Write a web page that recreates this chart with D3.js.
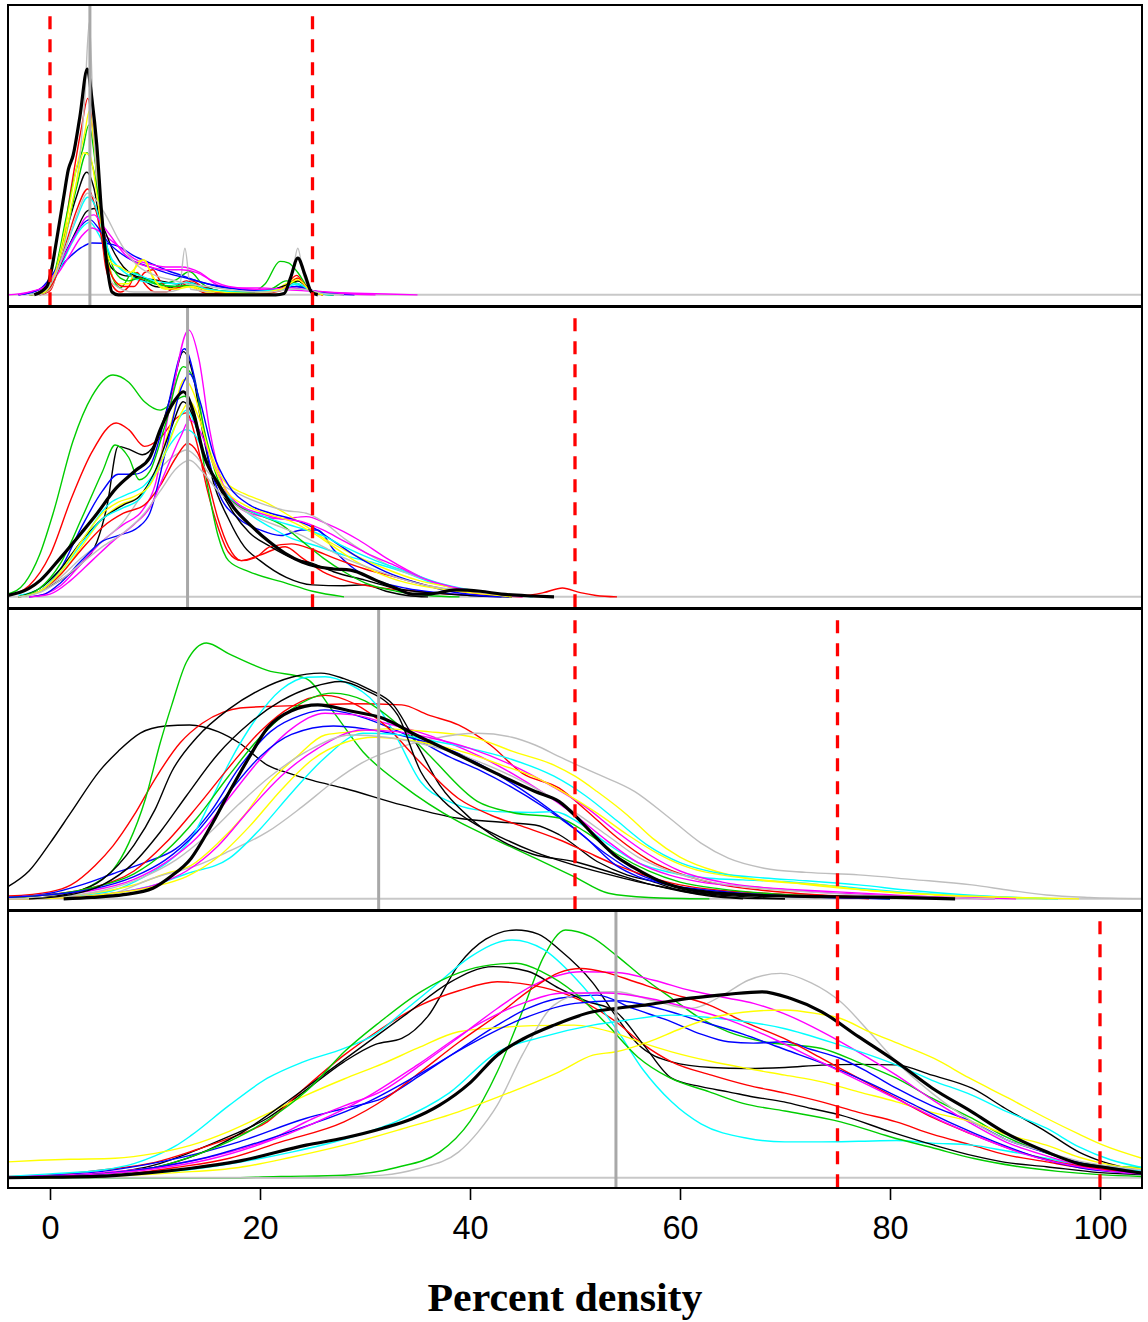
<!DOCTYPE html>
<html>
<head>
<meta charset="utf-8">
<script src="https://cdn.jsdelivr.net/npm/d3@7"></script>
<style>
  body { margin: 0; background: #fff; }
</style>
</head>
<body>
<script>
// ---- data ----
// every curve is a list of [percent density, relative density (0..100 of panel max)]
// colours follow R's palette() in order, so curve i uses palette[i % 8]

const xTicks = [0, 20, 40, 60, 80, 100];
const xLabel = 'Percent density';

// panel 1
const p1Median = 3.8;
const p1Cuts = [0, 25];
const p1Pooled = [[-1.5,0],[-0.3,3],[0.2,10],[0.6,19],[1.3,35],[1.75,45],[2.2,50],[2.85,64],[3.55,81],[4.0,70],[4.45,54],[4.9,30],[5.4,11.5],[5.9,1],[6.5,0],[21.5,0],[22.3,0.5],[22.9,6],[23.6,13.2],[24.3,7],[24.9,1],[25.5,0]];
const p1Curves = [
  [[-2,0],[-0.5,1],[0.5,8],[1.5,22],[2.5,35],[3.5,44],[4.2,38],[5,20],[5.8,10],[7,7],[8,6.5],[9,5],[10,3],[11.5,2.5],[13,4.4],[14.5,2],[17,1],[20,1],[22.5,3],[23.6,5],[24.8,1.5],[26,0]],
  [[-1,0],[0,1.5],[1,14],[2,38],[3,60],[3.6,70.5],[4.1,58],[4.7,30],[5.3,10],[6,3],[6.7,1],[7.5,3],[8.3,8],[9,4],[10,1],[11,1],[12,3],[13,5],[14,2],[15,0.5],[20,0.3],[22,1.5],[23.5,7],[24.5,2],[26,0]],
  [[-2,0],[-0.5,1],[0.5,9],[1.5,27],[2.5,45],[3.1,52],[3.7,61],[4.3,48],[5,25],[5.8,8],[6.7,2.5],[7.9,8],[9,6],[10.5,4],[12,5.4],[13.3,8.4],[14.5,4],[16,1.5],[19,1],[20.5,4],[21.9,12],[22.7,11.5],[23.6,8],[24.5,3],[25.5,0.5],[27,0]],
  [[-3,0],[-1,2],[0,5],[1,10],[2,14],[3,17],[4,18.6],[5,18.5],[6,18],[6.7,17],[8,14],[9.5,11.5],[11,9],[12.5,7],[14,5],[16,3],[18,2],[20,1.5],[22,2.5],[23.5,3],[25,1.5],[27,0.5],[29,0]],
  [[-2,0],[-0.5,2],[1,10],[2,18],[3,24],[3.8,26],[4.6,22],[5.5,15],[6.5,10],[8,6],[10,4],[12,3],[13,3.5],[15,2],[18,1],[21,1.5],[23,4],[24,3],[25.5,0.5],[27,0]],
  [[-4,0],[-2,1],[-1,2],[0,4],[1,9],[2,15],[3,21],[4,24],[5,22],[6,19],[7,16],[8,13],[9.5,11],[11,10],[12.5,10],[14.3,8],[16,3.5],[18,2.5],[20,2.5],[22,2],[24,1.5],[26,1],[29,0.6],[32,0.3],[35,0]],
  [[-2,0],[-0.5,1],[0.5,8],[1.5,25],[2.5,45],[3.3,58],[3.75,66],[4.3,50],[5,22],[5.8,8],[6.5,4],[7.5,4],[8.4,12],[9,12.5],[9.8,6],[11,2],[13,3],[15,1],[19,0.5],[21,1],[22.5,4],[23.6,6],[24.6,2],[26,0]],
  [[-1,0],[0,2],[1,12],[2,30],[2.8,48],[3.3,70],[3.75,98],[4.15,60],[4.6,35],[5.2,15],[6,4],[8,1],[11,1],[12.3,2],[12.85,16.7],[13.4,2],[16,1],[20,1],[22.5,2],[23.1,8],[23.6,16.7],[24.1,8],[24.7,1.5],[25.5,0]],
  [[-2,0],[-0.5,1.5],[0.5,7],[1.5,15],[2.5,23],[3.5,30],[4.2,31],[5,25],[6,16],[7,10],[8,7],[9,6],[10.5,5],[12,4],[13.3,4.4],[14.5,3],[17,1],[20,1],[22.5,3.5],[23.6,5],[25,1.5],[27,0]],
  [[-2,0],[-0.5,1],[0.5,6],[1.5,18],[2.5,30],[3.6,38],[4.4,30],[5.2,15],[6,6],[7,3],[8,3],[9,8],[9.8,9],[10.5,5],[11.5,2],[12.5,3],[13.5,5],[14.5,3],[16,1],[20,0.5],[22.5,3],[23.6,6],[24.6,2],[26,0]],
  [[-2,0],[-0.5,1],[0.5,8],[1.5,22],[2.5,38],[3.5,51],[4.2,44],[5,25],[5.8,12],[6.7,6],[7.5,5],[8.5,6],[10,4],[12,3],[13.3,3.5],[15,2],[18,1],[21,2],[22.5,5],[23.6,4],[25,1],[27,0]],
  [[-3,0],[-1,2],[0,6],[1,12],[2,19],[3,25],[3.8,27],[4.6,24],[5.5,19],[6.7,15],[8,12],[9.5,10],[11,8],[13,6],[15,4],[17,2.5],[20,1.5],[22,2],[23.5,3],[25,1.5],[28,0]],
  [[-2,0],[-0.5,1.5],[0.5,7],[1.5,17],[2.5,27],[3.6,35],[4.3,32],[5.2,20],[6,12],[7,9],[8.5,7],[10,5],[12,4],[13,4.5],[15,2],[18,1],[22,2],[23.6,4],[25,1],[27,0]],
  [[-3,0],[-1.5,1.5],[-0.5,3],[0.5,8],[1.5,15],[2.5,22],[3.5,28],[4.2,28.7],[5,25],[6,20],[7,15],[8,12],[9.5,10],[11,9],[12.5,9],[14,8],[15.5,5],[17,3],[20,2],[23,2.5],[25,1.5],[28,0.5],[31,0]],
  [[-2,0],[-0.5,1],[0.5,8],[1.5,22],[2.5,40],[3.2,51],[3.8,50],[4.5,35],[5.2,18],[6,11],[6.7,10],[7.6,8],[8.9,12.5],[9.6,8],[10.5,3],[12,2],[13.5,3],[15,1.5],[19,0.5],[22,2],[23.6,5.4],[24.8,1.5],[26,0]],
  [[-2,0],[-0.5,1.5],[0.5,7],[1.5,17],[2.5,28],[3.6,36.5],[4.4,34],[5.4,28],[6.5,20],[7.5,14],[8.5,10],[10,7],[12,5],[13,4],[15,3],[18,1.5],[21,1],[23,2],[24,2],[26,0.5],[28,0]]
];

// panel 2
const p2Median = 13.1;
const p2Cuts = [25, 50];
const p2Pooled = [[-4,0.5],[-2,3],[-0.9,6],[1,14],[3,23],[4.3,29],[6.3,39],[8.2,45.5],[9.5,50],[10.5,60],[11.8,70],[12.7,73.6],[13.6,67],[14.6,51.5],[16.2,39.5],[17.5,32],[19.3,25],[20.8,20],[22.4,15.6],[24,12.5],[25.5,10.8],[27,10],[28.6,9.6],[31,6],[33,3],[34.5,1],[36,1],[38.7,2.5],[41,2],[43,1],[46,0.3],[48,0]];
const p2Curves = [
  [[-3,0],[-1,2],[1,6],[3,12],[4.5,20],[5.4,32],[6.5,54],[7.5,53],[8.8,51],[10,55],[11.5,72],[12.7,88],[13.6,80],[14.5,60],[15.5,42],[17,28],[18.5,18],[20,13],[22.5,7],[25,4.3],[28,4],[30,4.3],[32,2],[34,0.5],[36,0]],
  [[-4,0.5],[-2,4],[0,15],[2,35],[4,52],[6.3,62.4],[7.5,60],[9,54],[10.5,57],[12,64],[13,66],[14,55],[15,38],[16,25],[17,16],[18.2,13],[20,15],[22.4,18],[24,14],[26,9],[28,6],[31,3.5],[35,2],[38,1],[42,0.5],[45,0]],
  [[-4,1],[-2.4,5],[-1,15],[0.3,30],[2.2,56],[4,72],[6,79.6],[7.5,77],[9,70],[10.5,67],[11.8,70],[12.8,72],[14,62],[15,40],[16,22],[17,13],[19,9],[22.4,5],[25,2],[28,0]],
  [[-3,0],[-1,2],[1,10],[3,25],[5,38],[6.5,44],[8,44],[9.5,47],[11,65],[12.8,89],[13.8,78],[14.8,55],[16,38],[18,28],[20,24],[22,22],[24,24],[25.5,24],[27,17],[29,10],[31,6],[34,3],[37,1.5],[40,0.5],[43,0]],
  [[-3,0.5],[-1,3],[1,10],[3,20],[5.7,33.6],[7.5,37],[9,40],[10.5,48],[12,62],[13,67],[14,60],[15,48],[16.5,38],[18.5,31],[21,25],[23,21],[25.1,18.6],[28,15],[31,12],[34,8.5],[36,5.5],[38,3.6],[41,1.5],[44,0]],
  [[-2,0],[-0.5,1],[1,4],[3,12],[5,20],[7,26],[8.8,31],[10,40],[11.5,70],[13.2,95.8],[14.2,85],[15.2,60],[16.5,40],[18,32],[20,29],[22,28],[24.4,28.8],[26.5,26],[29.4,20.4],[32,14],[34,9.7],[36,6],[38,3.6],[41,1.5],[44,0]],
  [[-3,0],[-1,2],[1,8],[3,18],[5,28],[6.7,33],[8.5,36],[10,45],[11.5,62],[12.8,78],[13.8,72],[15,55],[16.5,42],[18.5,37],[20.5,34],[22.4,30],[24.5,25],[26.3,20.4],[29,15],[32,10],[35,6],[38,3.6],[41,1.5],[44,0]],
  [[-3,0],[-1,2],[1,7],[3,14],[5,20],[7,27],[9,38],[10.5,46],[12,51],[13,52.7],[14,50],[15,45],[16.5,40],[18.5,36],[20.5,33],[22.4,31],[24.4,30],[26,27],[28,21],[30,16],[33,10],[36,6],[39,3],[42,1.5],[46,0]],
  [[-3,0],[-1,3],[1,10],[3,20],[5,28],[7,33],[8.5,36],[10,45],[11.5,60],[12.7,70],[13.6,65],[14.6,52],[16,40],[17.5,30],[19,23],[21,18],[23,14],[25,12],[27,9],[30,6],[33,3],[36,1.5],[40,0.5],[44,0]],
  [[-3,0],[-1,2],[1,8],[3,17],[5,25],[7,30],[9,33],[10.5,40],[12,50],[13.1,55],[14,52],[15,42],[16,28],[17,18],[18.2,13],[19.5,14],[21,18],[23,19],[25,17],[27,14],[30,10],[33,7],[36,4],[39,2],[42,1],[45,0.5],[47,1.5],[48.8,3.2],[50.5,1.5],[52,0.5],[54,0]],
  [[-3,0],[-1,3],[1,12],[3,28],[5,45],[6.2,54.5],[7.5,50],[8.5,42],[9.5,45],[11,62],[12.7,82.6],[13.7,78],[14.8,58],[16,42],[17.5,34],[19.5,30],[22,26],[24,20],[26,14],[28,9],[30,5],[33,2],[36,0.5],[39,0]],
  [[-2,0],[-0.5,1],[1,5],[3,13],[5,20],[6.5,22],[8.4,25],[9.5,30],[11,52],[12.5,75],[13.3,80],[14.3,70],[15.5,52],[17,40],[19,33],[21,30],[23,28],[25,25],[27,20],[29,15],[32,9],[35,5],[38,2],[41,0.5],[44,0]],
  [[-3,0],[-1,2],[1,9],[3,19],[5,28],[7,32],[8.5,35],[10,44],[11.5,55],[13,60],[14,57],[15,48],[16.5,38],[18.5,32],[21,28],[23.5,25],[26,22],[28,18],[31,13],[34,9],[37,5],[40,2.5],[43,1],[46,0]],
  [[-2,0],[0,1],[2,6],[4,13],[6,20],[8,26],[9.5,32],[11,45],[12.5,58],[13.3,63.5],[14.2,60],[15.3,50],[16.5,40],[18,33],[20,30],[22,28],[24,27],[26,24],[28,20],[30,16],[33,11],[36,6],[39,3],[42,1],[45,0]],
  [[-3,0],[-1,2],[1,9],[3,20],[5,30],[6.5,34],[8,36],[9.5,40],[11,52],[12.5,66],[13.3,70],[14.2,64],[15.3,50],[16.8,38],[18.5,33],[20.5,30],[23,27],[25,23],[27,18],[29,13],[31,9],[34,5],[37,3],[40,1.5],[44,0]],
  [[-3,0],[-1,1.5],[1,6],[3,12],[5,18],[7,23],[9,30],[10.5,38],[12,46],[13.3,49],[14.5,45],[16,38],[18,32],[20,28],[22,25],[24,22],[26,18],[28,14],[30,11],[33,7],[36,4],[40,2],[44,0.5],[48,0]]
];

// panel 3
const p3Median = 31.3;
const p3Cuts = [50, 75];
const p3Pooled = [[1.3,0],[4,0.5],[7,1.5],[9.8,3.8],[11.5,8],[13.45,14.6],[15.3,26],[17.1,38.5],[19,51],[20.7,61.2],[23,67.5],[25.5,69.6],[28.5,67.5],[31.7,64.8],[35,58.5],[38.9,51.6],[42.5,45],[46.2,38.5],[48.5,34.9],[50.5,28],[52.1,21.7],[54,15],[55.7,11],[58,6.5],[61,3.2],[66.4,1.4],[73.5,0.8],[80.6,0.5],[86.2,0]];
const p3Curves = [
  [[-4,4.4],[-2,10],[0,20],[2,31],[4.75,46],[6.5,53],[8.6,59.5],[11,62],[13.3,62.4],[16,60],[18,56],[20.7,48],[22.8,45],[25,42.5],[28,39.7],[33.5,33.7],[38.9,28.9],[43,27.5],[46.2,26.5],[48.5,23],[52.1,13.4],[55,8.5],[57.4,6.2],[60,3],[62.8,1.4],[66,0.3],[70,0]],
  [[-4,1],[0,2.5],[2,5],[4.3,12],[6,19],[8,30],[10,43],[12.4,56],[14.5,63],[16.5,67],[18.1,68.5],[20.7,69],[25,69.5],[29,70],[33.5,69.6],[36,66],[38.9,62.4],[42,55],[45,45],[48.5,39.7],[51,32],[54,22],[57,14],[60,9],[64,5],[68,3],[73,1.5],[80,0.5],[86,0]],
  [[-4,0],[0,1.5],[2.5,2.6],[4.5,6],[6,10.4],[7.5,20],[9.1,36],[10.5,56],[11.6,69.6],[13,85],[14.9,91.8],[17,88],[20.7,82],[24.4,79],[27,67],[29.8,52.8],[33.5,40.9],[38.9,27.7],[42,22],[46.2,14.6],[49.9,8],[53.2,2],[57,0.5],[62.8,0]],
  [[-4,0.5],[0,2],[3,5],[6,9],[9,13],[12,18],[15.3,31.3],[18,47],[21,60],[24,66],[26.2,67.8],[29,66],[32,62],[35,57],[38,51],[41,46],[44,40],[47,33],[50,25],[53,16],[56,9],[59,5],[63,2.5],[68,1.2],[74,0.5],[80,0]],
  [[-2,0],[2,1],[6,3],[9,8],[11.5,14],[13.45,21.7],[15.3,35],[17.1,49],[19.5,64],[22,75],[24.5,79.5],[26.2,79.7],[28.5,77],[31,70],[33,58],[35.3,42],[38,35],[40.5,32],[42.6,31.3],[46,31],[48,31.3],[50.5,27],[53,20],[56,13],[59,9.5],[62.8,7.4],[66,6.8],[69.9,6.2],[75,4.5],[80.6,2.6],[88,1],[95,0]],
  [[-4,0.5],[0,1.5],[4,3],[8,7],[11,13],[14,22],[17,36],[20,50],[23,61],[26.2,66.6],[29,66],[32,63],[35,60],[38,56],[41,51],[44,45],[47,38],[50,30],[53,21],[56,13],[59,8.5],[62,6],[66,4.5],[70,3.5],[75,2.5],[80,1.5],[85,0.5],[90,0]],
  [[-3,0],[0,0.5],[4,2],[8,5],[11,9],[13.45,12],[16,20],[18.5,30],[20.7,41],[23.5,51],[26.2,58.8],[29,60],[32,61],[36,60],[40.7,57.6],[44,53],[48,48],[50,44],[52.1,38.5],[55,30],[57.4,21.7],[60,15],[63.5,9.8],[67,7],[73.5,5],[78,3],[84.2,1.4],[90,0.5],[96,0]],
  [[-4,0],[2,0.5],[6,2],[9.8,7.4],[14,12],[17,17],[20.7,24],[24,33],[27,42],[29.8,49],[33,54],[36.5,57.5],[40.7,59.4],[44,58],[46.2,55.2],[48.5,51],[52,45],[55.7,38.5],[59,29],[62,20],[64.6,14.6],[68,11],[72,9.5],[77,8.6],[82,7],[87.8,5],[91.5,3],[94.9,1.4],[99,0.5],[104,0]],
  [[-2,0],[2,2],[5,7],[8,19.3],[10,32],[11.6,45.7],[14,58],[17,68],[20,75],[23,79.5],[25.8,81],[28,79],[30.5,75],[32.7,69.6],[35,55],[37.1,40.9],[40,29],[42.6,21.7],[46,16],[49.9,13.4],[53,10],[57.4,5],[62.8,1],[66,0]],
  [[-4,0.5],[0,1.5],[4,4],[8,10],[11,20],[14,33],[17,47],[20,60],[23,69],[26.2,73],[29,70],[32,62],[35,50],[38.9,36],[42,30],[45,26],[48.5,21.2],[51,17],[54,12],[57,8],[60,5],[64,3],[68,2],[73,1],[78,0]],
  [[-4,0.5],[0,1.5],[4,4],[8,9],[11,17],[14,29],[17,44],[20,58],[23,68],[26.9,73.8],[30,71],[33,63],[36,52],[40.7,35],[44,31],[48.5,29],[51,24],[54,16],[57,10],[60,6],[64,3.5],[68,2],[74,0.8],[80,0]],
  [[-4,0.5],[0,1.5],[4,3.5],[8,8],[11,14],[14,24],[17,38],[20,51],[23,59],[27,62],[30,61],[33,59],[36,56],[39,52],[42,46],[45,39],[48,31],[51,22],[53.9,12],[56,8],[59,5],[63,3],[68,1.5],[74,0.6],[80,0]],
  [[-4,0],[2,0.5],[6,2],[10,5],[13,9],[17.1,14.6],[20,25],[23,38],[26,50],[29.8,59.4],[33,59],[36,57],[40,54],[44,50],[48,44],[51,37],[54,28],[57,19],[60,13],[64,9],[68,7.5],[72,6.5],[77,5],[82,3],[87,1.5],[92,0.5],[96,0]],
  [[-4,0],[2,0.5],[6,2],[10,5],[13,10],[16,19],[19,32],[22,44],[25.5,54],[29.8,60.6],[33,60],[36,58],[40,54],[44,48],[48,40],[51,33],[54,24],[57,16],[60,10],[64,6],[68,4],[73,2.5],[80,1.2],[87,0.5],[92,0]],
  [[-4,0],[2,0.5],[6,2],[10,4.5],[13,8],[16,15],[19,26],[22,39],[25,50],[28,56],[31,58],[34,57],[37,55],[40,52],[43,48],[46,44],[49,38],[52,31],[55,23],[58,16],[61,11],[65,8],[70,6],[75,4],[80,2.5],[86,1.2],[92,0.5],[98,0]],
  [[-4,0],[1,0.8],[5,3],[9,8],[12,14],[15,23],[18,34],[21,44],[24.5,53],[28.7,58.8],[32,58],[35,56],[38,53],[41,49],[44,44],[47,38],[50,31],[53,23],[56,15],[59,10],[63,6],[67,4],[72,2.5],[78,1.2],[85,0.5],[90,0]],
  [[-2,0],[2,1.5],[5,5],[8,13],[10.5,24],[13,37],[16,52],[19,63],[22,71],[25,76],[27.65,78],[30,75],[33.1,66],[35.3,45.7],[37.5,35],[40,28],[43,22],[46,17],[50,12],[54,8],[58,4.5],[62,2],[66,0.8],[70,0]]
];

// panel 4
const p4Median = 53.9;
const p4Cuts = [75, 100];
const p4Pooled = [[-4,0],[0,0.2],[4.3,0.5],[9,1.8],[13.45,3.7],[18,6.5],[24.4,12.7],[28,15.5],[31.7,19.3],[34.5,23],[37.1,28.3],[40,37],[42.6,47.8],[45,54],[48,59.5],[51.7,64.7],[53.9,66],[57,67.5],[61,70],[64.5,71.5],[67.8,72.5],[70.5,70],[73.5,64.7],[77,55],[80.6,45.2],[84,35],[87.8,25.7],[91,17.5],[94.9,10.1],[98,5.5],[100.5,4],[104,1.8]];
const p4Curves = [
  [[-4,0],[0,0.3],[5,1.5],[10,5],[13.45,10],[17,16],[20.7,23.2],[24,33],[28,45.2],[31,52],[33.5,54.3],[36,63],[38.9,82.9],[41.5,93],[44.4,96.6],[46.5,95],[48.5,89],[51.7,76],[53.9,63],[56,52],[59.2,45.2],[63,43],[66.4,42.6],[70,43],[73.5,43.9],[77,44.2],[80.6,44],[84,40],[87.8,34.9],[91,27],[94.9,17.9],[98,10],[100.3,6.2],[104,2.7]],
  [[-4,0.5],[0,1],[5,3],[10,6],[14,11],[17.5,16],[20.7,21.8],[24,34],[28,47.8],[31.5,58],[35.3,67.3],[39,73],[42.6,76.4],[46,75],[49.5,71],[53.9,60.8],[56.5,52],[59.2,45.2],[63,40],[66.4,36.1],[70,33],[73.5,29.6],[77,25.5],[80.6,21.8],[84,17],[87.8,12.7],[91,9],[94.9,6.2],[98,4],[101.5,2.7],[104,2]],
  [[-4,0],[17,0],[22,0.5],[28,1],[33,4],[37.1,10],[40,22],[42.6,41.3],[45,65],[47,86],[49.1,96.6],[51.5,94],[53.9,86.8],[56.5,78],[59.2,70],[62,62],[64.6,56.9],[68,53],[73.5,50.4],[77,45],[80.6,38.8],[84,31],[87.8,23.2],[91,16],[94.9,9.6],[98,6],[101,4.5],[104,4]],
  [[-4,0.3],[0,1],[5,2.5],[9,5],[13.45,8.8],[18,14],[24.4,23.2],[28,27],[31.7,31],[35.3,40],[39,50],[42.6,59.5],[45.5,66],[48.5,70],[52.1,71.2],[55.5,66],[59.2,60.8],[62,56],[64.6,53],[67,52.5],[70,53],[72.5,50],[75.3,46.5],[78,41],[80.6,34.9],[84,28],[87.8,21.8],[91,15],[94.9,9.8],[98,6],[101,4],[104,2.5]],
  [[-4,0.5],[0,1.5],[5,3],[8,5.5],[10,8.5],[12,12.5],[13.45,16.5],[17,28],[20.7,38.8],[24,45],[28,50.4],[31,56],[34,66],[37.1,76.4],[40,86],[44,92.7],[47,89],[50,78],[53.9,58.2],[56.5,42],[59.2,29.6],[62,21],[66.4,15.4],[70,14],[73.5,14],[77,14.2],[80.6,14.5],[84,13.5],[87.8,12.7],[91,10.5],[94.9,7.6],[98,5],[101,3.5],[104,2.7]],
  [[-4,0.3],[0,0.8],[5,2],[10,4],[14,7],[17.1,10],[21,15],[25,23],[28,28],[31.7,34],[35.3,44],[39,55],[42.6,66],[46,75],[50.6,80.3],[54,80],[57.5,77],[61,73],[64.6,70],[67,68],[69.9,64],[73.5,57],[77,49],[80.6,40],[84.2,30],[87.8,21],[91,14],[94.9,8.5],[98,5],[101,3.2],[104,2]],
  [[-4,6.2],[-1,6.8],[2,7.2],[6.2,7.6],[10,9.5],[13.45,12.7],[17,18],[20.7,25],[24.4,32.2],[28,38.5],[31.7,44.5],[35,50.5],[38.9,56.9],[42.6,58.5],[46,59.3],[49.9,59.5],[53.9,56.3],[56.5,52.5],[59.2,49.1],[62.8,45.5],[66.4,42.6],[70,40],[73.5,37.4],[77,33.5],[80.6,29.6],[84,25.5],[87.8,21.8],[91,17],[94.9,12.7],[98,8],[101,5],[104,3.5]],
  [[-4,0],[25,0],[29,0.5],[31.7,1],[35,3.5],[38.9,10],[40.8,18],[42.6,28.3],[45,48],[48,67.3],[51,72],[53.9,72.5],[57.5,69],[61,66],[64,71],[66.5,77],[69.6,79.7],[72.5,76],[75.3,68.6],[78,57],[80.6,45.2],[84,33],[87.8,22],[91,15],[94.9,10],[98,6.5],[101,4.5],[104,3]],
  [[-4,0],[0,0.5],[5,1.5],[10,4],[14,9],[18,17],[22,28],[26,40],[30,52],[34,64],[38,76],[42.2,82.3],[45.5,80.5],[48.5,73.8],[51,69],[53.9,64.7],[56.5,52],[59.2,38.8],[62,35.5],[64.6,33.5],[67,31.5],[69.9,29.6],[72.5,27],[75.3,24.4],[80,18],[84.2,12.7],[88,8.5],[91,6],[94.9,4.3],[100,2],[104,1.2]],
  [[-4,0],[2,0.3],[6.2,1],[12,4],[17.1,7.6],[22,14],[28,21.8],[32,31],[35.3,41.3],[39,53],[42.6,63.4],[46,74],[48.5,80],[50.6,81.6],[53,80],[55.7,76.4],[59,72],[62.8,67.3],[66,61],[69.9,54.3],[73.5,46.5],[77,38.8],[80.6,31],[84.2,23.2],[87.8,17],[91.3,11.5],[95,7],[98.4,4.3],[101,3],[104,2]],
  [[-4,0],[0,0.5],[5,1.5],[10,4],[14,9],[18,16],[22,26],[25,36],[28,49],[31.5,61],[35.3,72.5],[39,80],[42,83],[44.4,83.6],[47,80],[50,72],[53,60],[56,47],[59,39],[62.8,33.5],[66,29],[70,26],[75.3,21.8],[80,16],[84.2,11.5],[88,7.5],[92,4.5],[96,2.5],[100,1.2],[104,0.5]],
  [[-4,0],[0,0.5],[5,1.5],[10,4],[15,8],[20,14],[25,21],[30,29],[35,40],[40,52],[45,62],[50,68],[54,69],[58,66],[62,61],[66,56],[70,50],[74,44],[78,37],[82,29],[86,21],[90,14],[94,8],[98,4],[104,1.5]],
  [[-4,0],[2,0.5],[8,1.5],[13,3],[18,6],[23,10],[28,15],[33,22],[38,33],[42.6,49],[47,55],[51.7,59.5],[55,61.5],[59.2,63.4],[64,62],[69.9,58.2],[75,52],[80.6,44],[84,38],[87.8,32.2],[91,26],[94.9,19.3],[98,12],[101,7],[104,4]],
  [[-4,0],[0,0.5],[5,1.5],[10,3.5],[15,7],[20,13],[25,21],[30,31],[35,44],[40,58],[45,68],[49,72],[53,72],[57,70],[61,66],[65,61],[69,54],[73,46],[77,38],[81,30],[85,22],[89,15],[93,9],[97,5],[101,2.5],[104,1.5]],
  [[-4,0],[5,0.5],[12,2],[18,4],[23,8],[28,12.7],[33.5,19],[38.9,25.7],[43,32],[48.5,41.3],[51.7,47.8],[53.9,49.1],[57,53],[60,58],[62.8,62.1],[66,64.5],[69.9,65.4],[73,64],[75.3,62.1],[78,57],[81,52],[84.2,46.5],[87.5,39],[91.3,31],[95,23],[98,17],[100.3,12.7],[104,7.6]]
];

// R default palette
const palette = ['#000000', '#FF0000', '#00CD00', '#0000FF', '#00FFFF', '#FF00FF', '#FFFF00', '#BEBEBE'];

// ---- layout ----
const width = 1148;
const height = 1322;
const left = 8, right = 1142;
const panelTops = [5, 307, 609, 911];
const panelBottoms = [306, 608, 910, 1188];

const panels = [
  { curves: p1Curves, pooled: p1Pooled, median: p1Median, cuts: p1Cuts },
  { curves: p2Curves, pooled: p2Pooled, median: p2Median, cuts: p2Cuts },
  { curves: p3Curves, pooled: p3Pooled, median: p3Median, cuts: p3Cuts },
  { curves: p4Curves, pooled: p4Pooled, median: p4Median, cuts: p4Cuts }
];

const svg = d3.select('body').append('svg')
  .attr('width', width).attr('height', height)
  .style('background', '#fff');

// x: R pads the range by 4% on each side
const x = d3.scaleLinear().domain([-4, 104]).range([left, right]);

panels.forEach((p, i) => {
  const top = panelTops[i], bottom = panelBottoms[i];
  const y = d3.scaleLinear().domain([-4, 104]).range([bottom, top]);

  const clipId = 'clip' + i;
  svg.append('clipPath').attr('id', clipId)
    .append('rect').attr('x', left).attr('y', top)
    .attr('width', right - left).attr('height', bottom - top);

  const g = svg.append('g').attr('clip-path', `url(#${clipId})`);

  // zero line
  g.append('line')
    .attr('x1', left).attr('x2', right)
    .attr('y1', y(0)).attr('y2', y(0))
    .attr('stroke', '#c8c8c8').attr('stroke-width', 2);

  const line = d3.line()
    .x(d => x(d[0]))
    .y(d => y(d[1]))
    .curve(d3.curveMonotoneX);

  // one thin curve per group
  g.selectAll('.curve')
    .data(p.curves)
    .enter()
    .append('path')
    .attr('class', 'curve')
    .attr('d', line)
    .attr('fill', 'none')
    .attr('stroke', (d, k) => palette[k % palette.length])
    .attr('stroke-width', 1.4)
    .attr('stroke-linejoin', 'round');

  // pooled curve, thick black
  g.append('path')
    .datum(p.pooled)
    .attr('d', line)
    .attr('fill', 'none')
    .attr('stroke', '#000')
    .attr('stroke-width', 3.2)
    .attr('stroke-linejoin', 'round');

  // median line
  g.append('line')
    .attr('x1', x(p.median)).attr('x2', x(p.median))
    .attr('y1', top).attr('y2', bottom)
    .attr('stroke', '#a8a8a8').attr('stroke-width', 3);

  // category cut points, red dashed
  g.selectAll('.cut')
    .data(p.cuts)
    .enter()
    .append('line')
    .attr('class', 'cut')
    .attr('x1', d => x(d)).attr('x2', d => x(d))
    .attr('y1', y(100)).attr('y2', bottom)
    .attr('stroke', '#FF0000')
    .attr('stroke-width', 3.3)
    .attr('stroke-dasharray', '13,10');

  // frame
  svg.append('rect')
    .attr('x', left).attr('y', top)
    .attr('width', right - left).attr('height', bottom - top)
    .attr('fill', 'none')
    .attr('stroke', '#000')
    .attr('stroke-width', 2);
});

// x axis under the last panel
const axis = d3.axisBottom(x)
  .tickValues(xTicks)
  .tickSize(12)
  .tickPadding(16)
  .tickFormat(d3.format('d'));

const ax = svg.append('g')
  .attr('transform', `translate(0,${panelBottoms[3]})`)
  .call(axis);
ax.select('.domain').remove();
ax.selectAll('.tick line').attr('stroke', '#000').attr('stroke-width', 1.6);
ax.selectAll('.tick text')
  .attr('fill', '#000')
  .style('font-family', '"Liberation Sans", Arial, sans-serif')
  .style('font-size', '32.5px');

svg.append('text')
  .attr('x', 565).attr('y', 1311)
  .attr('text-anchor', 'middle')
  .attr('textLength', 275)
  .attr('lengthAdjust', 'spacingAndGlyphs')
  .style('font-family', '"Liberation Serif", "Times New Roman", serif')
  .style('font-weight', 'bold')
  .style('font-size', '39px')
  .text(xLabel);
</script>
</body>
</html>
